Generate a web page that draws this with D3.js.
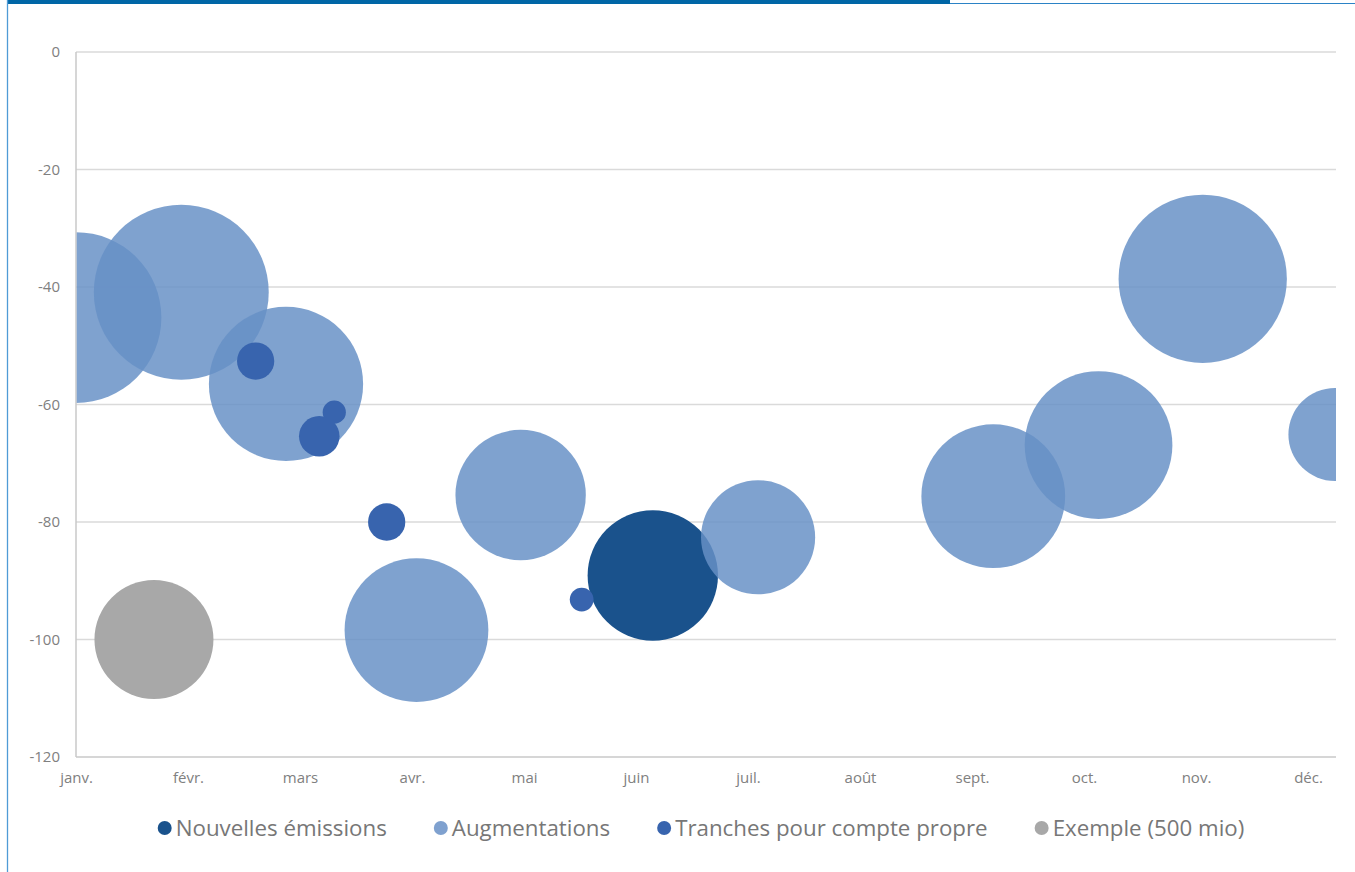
<!DOCTYPE html>
<html>
<head>
<meta charset="utf-8">
<script src="https://cdn.jsdelivr.net/npm/d3@7"></script>
<style>
  html, body { margin: 0; padding: 0; background: #fff; }
  svg { display: block; }
  text { font-family: "Open Sans", "Noto Sans", sans-serif; }
</style>
</head>
<body>
<svg id="chart" width="1355" height="872"></svg>
<script>
// Month labels on the horizontal axis (index 0 = janvier)
const monthLabels = ["janv.", "févr.", "mars", "avr.", "mai", "juin", "juil.", "août", "sept.", "oct.", "nov.", "déc."];
const yTicks = [0, -20, -40, -60, -80, -100, -120];

// Each bubble: month position, value (y), volume in mio (bubble area)
const nouvellesMonth = [5.15];
const nouvellesValue = [-89.1];
const nouvellesSize  = [600];

const augmentMonth = [0.0, 0.94, 1.875, 3.04, 3.97, 6.09, 8.19, 9.13, 10.06, 11.24];
const augmentValue = [-45.2, -40.9, -56.5, -98.4, -75.4, -82.6, -75.6, -66.9, -38.6, -65.1];
const augmentSize  = [1030, 1080, 840, 730, 600, 460, 730, 770, 1000, 305];

const tranchesMonth = [1.604, 2.306, 2.172, 2.774, 4.515];
const tranchesValue = [-52.6, -61.3, -65.4, -80.0, -93.2];
const tranchesSize  = [49, 19, 58, 49, 20];

const exempleMonth = [0.696];
const exempleValue = [-100];
const exempleSize  = [500];

const seriesNames = ["Nouvelles émissions", "Augmentations", "Tranches pour compte propre", "Exemple (500 mio)"];

const zip = (m, v, s) => m.map((d, i) => ({ month: d, value: v[i], size: s[i] }));
const series = [
  { name: seriesNames[0], color: "#1a528c", opacity: 1,    data: zip(nouvellesMonth, nouvellesValue, nouvellesSize) },
  { name: seriesNames[1], color: "#6790c6", opacity: 0.84, data: zip(augmentMonth, augmentValue, augmentSize) },
  { name: seriesNames[2], color: "#3864ae", opacity: 1,    data: zip(tranchesMonth, tranchesValue, tranchesSize) },
  { name: seriesNames[3], color: "#a8a8a8", opacity: 1,    data: zip(exempleMonth, exempleValue, exempleSize) }
];
const legendColors = ["#1a528c", "#7fa1cf", "#3864ae", "#a8a8a8"];

const svg = d3.select("#chart");
const W = 1355, H = 872;
const plot = { left: 76, right: 1336, top: 52, bottom: 757 };

// Frame: thick band at the top, thin continuation and left rule
svg.append("rect").attr("x", 7).attr("y", 0).attr("width", 943).attr("height", 4).attr("fill", "#0066a6");
svg.append("line").attr("x1", 950).attr("x2", W).attr("y1", 3.5).attr("y2", 3.5)
  .attr("stroke", "#2b83c6").attr("stroke-width", 1.2);
svg.append("line").attr("x1", 7.5).attr("x2", 7.5).attr("y1", 0).attr("y2", H)
  .attr("stroke", "#4f9bd6").attr("stroke-width", 1.3);

const x = d3.scaleLinear().domain([0, 11.25]).range([plot.left, plot.right]);
const y = d3.scaleLinear().domain([-120, 0]).range([plot.bottom, plot.top]);
const r = d3.scaleSqrt().domain([0, 500]).range([0, 59.5]);

// Horizontal gridlines
svg.append("g").selectAll("line").data(yTicks.filter(t => t !== -120)).join("line")
  .attr("x1", plot.left).attr("x2", plot.right)
  .attr("y1", d => y(d)).attr("y2", d => y(d))
  .attr("stroke", "#dadada").attr("stroke-width", 1.5);

// Y axis (plain hyphen for negative numbers)
const yAxis = svg.append("g").attr("transform", `translate(${plot.left},0)`)
  .call(d3.axisLeft(y).tickValues(yTicks).tickSize(0).tickPadding(16).tickFormat(d => String(d)));
yAxis.select(".domain").remove();
yAxis.selectAll("text").attr("fill", "#808080").style("font-size", "15px").attr("dy", "0.32em");

// X axis
const xAxis = svg.append("g").attr("transform", `translate(0,${plot.bottom})`)
  .call(d3.axisBottom(x).tickValues(d3.range(12)).tickSize(0).tickPadding(15).tickFormat(i => monthLabels[i]));
xAxis.select(".domain").remove();
xAxis.selectAll("text").attr("fill", "#808080").style("font-size", "15px");

// Axis lines
svg.append("line").attr("x1", plot.left).attr("x2", plot.left).attr("y1", plot.top).attr("y2", plot.bottom)
  .attr("stroke", "#c8c8c8").attr("stroke-width", 1.5);
svg.append("line").attr("x1", plot.left).attr("x2", plot.right).attr("y1", plot.bottom).attr("y2", plot.bottom)
  .attr("stroke", "#c8c8c8").attr("stroke-width", 1.5);

// Bubbles, clipped to the plot area
svg.append("clipPath").attr("id", "plotClip").append("rect")
  .attr("x", plot.left + 0.75).attr("y", plot.top).attr("width", plot.right - plot.left - 0.75).attr("height", plot.bottom - plot.top);

const bubbles = svg.append("g").attr("clip-path", "url(#plotClip)");
series.forEach(s => {
  bubbles.append("g").selectAll("circle").data(s.data).join("circle")
    .attr("cx", d => x(d.month))
    .attr("cy", d => y(d.value))
    .attr("r", d => r(d.size))
    .attr("fill", s.color)
    .attr("fill-opacity", s.opacity);
});

// Legend, centred below the plot
const legend = svg.append("g");
const legendY = 828, markerR = 7, textGap = 11, itemGap = 54;
let cursor = 0;
seriesNames.forEach((name, i) => {
  const g = legend.append("g");
  g.append("circle").attr("cx", 0).attr("cy", 0).attr("r", markerR).attr("fill", legendColors[i]);
  const t = g.append("text").attr("x", textGap).attr("y", 0).attr("dy", "0.36em")
    .attr("fill", "#777").style("font-size", "22.3px").text(name);
  const w = t.node().getComputedTextLength();
  g.attr("transform", `translate(${cursor},${legendY})`);
  cursor += textGap + w + itemGap;
});
const totalW = cursor - itemGap + markerR;
legend.attr("transform", `translate(${701 - totalW / 2 + markerR},0)`);
</script>
</body>
</html>
